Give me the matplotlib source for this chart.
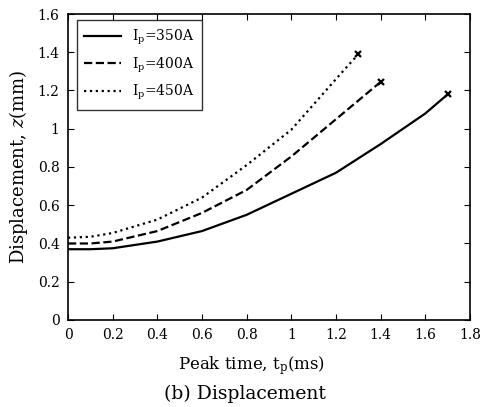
# Displacement vs peak time for three peak currents
import numpy as np
import matplotlib
matplotlib.use('Agg')
import matplotlib.pyplot as plt

plt.rcParams['font.family'] = ['DejaVu Serif']
plt.rcParams['mathtext.fontset'] = 'dejavuserif'

# data
t_350 = [0, 0.1, 0.2, 0.4, 0.6, 0.8, 1.0, 1.2, 1.4, 1.6, 1.7]
z_350 = [0.37, 0.37, 0.375, 0.41, 0.465, 0.55, 0.66, 0.77, 0.92, 1.08, 1.18]
t_400 = [0, 0.1, 0.2, 0.4, 0.6, 0.8, 1.0, 1.2, 1.4]
z_400 = [0.40, 0.40, 0.41, 0.465, 0.56, 0.68, 0.855, 1.05, 1.245]
t_450 = [0, 0.1, 0.2, 0.4, 0.6, 0.8, 1.0, 1.2, 1.3]
z_450 = [0.43, 0.435, 0.455, 0.525, 0.64, 0.81, 0.995, 1.26, 1.39]
labels = [r'I$_\mathrm{p}$=350A', r'I$_\mathrm{p}$=400A', r'I$_\mathrm{p}$=450A']
xticks = [0, 0.2, 0.4, 0.6, 0.8, 1, 1.2, 1.4, 1.6, 1.8]
yticks = [0, 0.2, 0.4, 0.6, 0.8, 1, 1.2, 1.4, 1.6]

fig = plt.figure(figsize=(4.84, 4.07), dpi=100)
ax = fig.add_axes([0.1405, 0.2138, 0.8306, 0.7518])

series = [(t_350, z_350, '-'), (t_400, z_400, '--'), (t_450, z_450, ':')]
for (t, z, ls), lab in zip(series, labels):
    ax.plot(t, z, ls, color='black', lw=1.6, label=lab)
    ax.plot(t[-1], z[-1], 'x', color='black', ms=5, mew=1.6)

ax.set_xlim(0, 1.8)
ax.set_ylim(0, 1.6)
ax.set_xticks(xticks)
ax.set_xticklabels([f'{v:g}' for v in xticks])
ax.set_yticks(yticks)
ax.set_yticklabels([f'{v:g}' for v in yticks])
ax.tick_params(direction='in', top=True, right=True, labelsize=10, length=4, pad=6)
for s in ax.spines.values():
    s.set_linewidth(1.2)

ax.set_xlabel(r'Peak time, t$_\mathrm{p}$(ms)', fontsize=12)
ax.xaxis.set_label_coords(0.456, -0.11)
ax.set_ylabel('Displacement, $z$(mm)', fontsize=13)
ax.yaxis.set_label_coords(-0.095, 0.5)

leg = ax.legend(loc='upper left', fontsize=10, frameon=True, fancybox=False,
                edgecolor='black', handlelength=2.6, borderpad=0.55,
                labelspacing=0.6, borderaxespad=0,
                bbox_to_anchor=(0.022, 0.98))
leg.get_frame().set_linewidth(1.0)

fig.text(0.506, 0.032, '(b) Displacement', ha='center', va='center', fontsize=13.5)

fig.savefig('out.png', dpi=100)
